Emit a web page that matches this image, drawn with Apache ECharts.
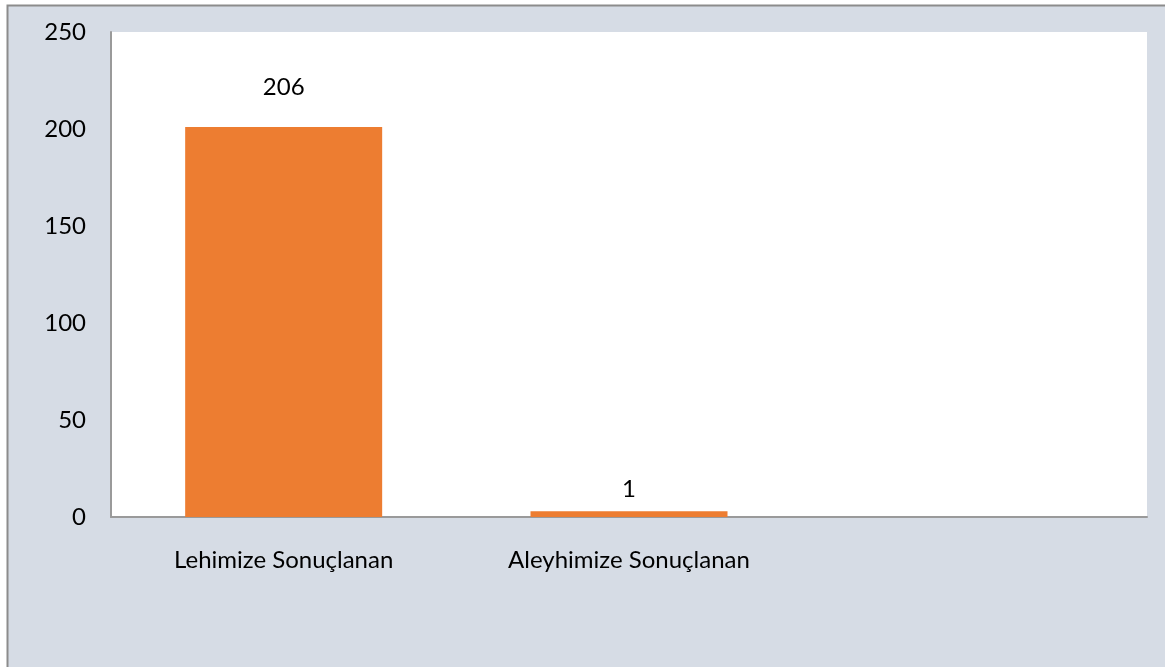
<!DOCTYPE html>
<html>
<head>
<meta charset="utf-8">
<script src="https://cdn.jsdelivr.net/npm/echarts@6/dist/echarts.min.js"></script>
<style>html,body{margin:0;padding:0;background:#fff}#c{width:1165px;height:667px}</style>
</head>
<body>
<div id="c"></div>
<script>
const categories = ["Lehimize Sonuçlanan", "Aleyhimize Sonuçlanan", ""];
const barValues = [201, 3, null];
const labelTexts = ["206", "1", ""];
const yTicks = [0, 50, 100, 150, 200, 250];

const labelDistances = [28, 10, 0];
const font = "Lato, 'Open Sans', sans-serif";

const chart = echarts.init(document.getElementById('c'), null, {renderer: 'canvas'});
chart.setOption({
  animation: false,
  backgroundColor: '#ffffff',
  graphic: [{
    type: 'rect', silent: true, z: -10,
    shape: {x: 7.5, y: 5.5, width: 1200, height: 700},
    style: {fill: '#D6DCE5', stroke: '#8C8C8C', lineWidth: 2}
  }],
  grid: {left: 111, top: 32, right: 18, bottom: 150, show: true, backgroundColor: '#ffffff', borderWidth: 0},
  xAxis: {
    type: 'category',
    data: categories,
    axisLine: {show: true, lineStyle: {color: '#9A9A9A', width: 2}},
    axisTick: {show: false},
    axisLabel: {color: '#000', fontSize: 24, fontFamily: font, margin: 31, interval: 0}
  },
  yAxis: {
    type: 'value',
    min: yTicks[0], max: yTicks[yTicks.length - 1], interval: 50,
    axisLine: {show: true, lineStyle: {color: '#9A9A9A', width: 2}},
    axisTick: {show: false},
    splitLine: {show: false},
    axisLabel: {color: '#000', fontSize: 24, fontFamily: font, margin: 25}
  },
  series: [{
    type: 'bar',
    barWidth: 197,
    itemStyle: {color: '#ED7D31'},
    data: barValues.map((v, i) => ({
      value: v,
      label: {show: v !== null, position: 'top', distance: labelDistances[i],
              formatter: () => labelTexts[i], color: '#000', fontSize: 24, fontFamily: font}
    }))
  }]
});
</script>
</body>
</html>
